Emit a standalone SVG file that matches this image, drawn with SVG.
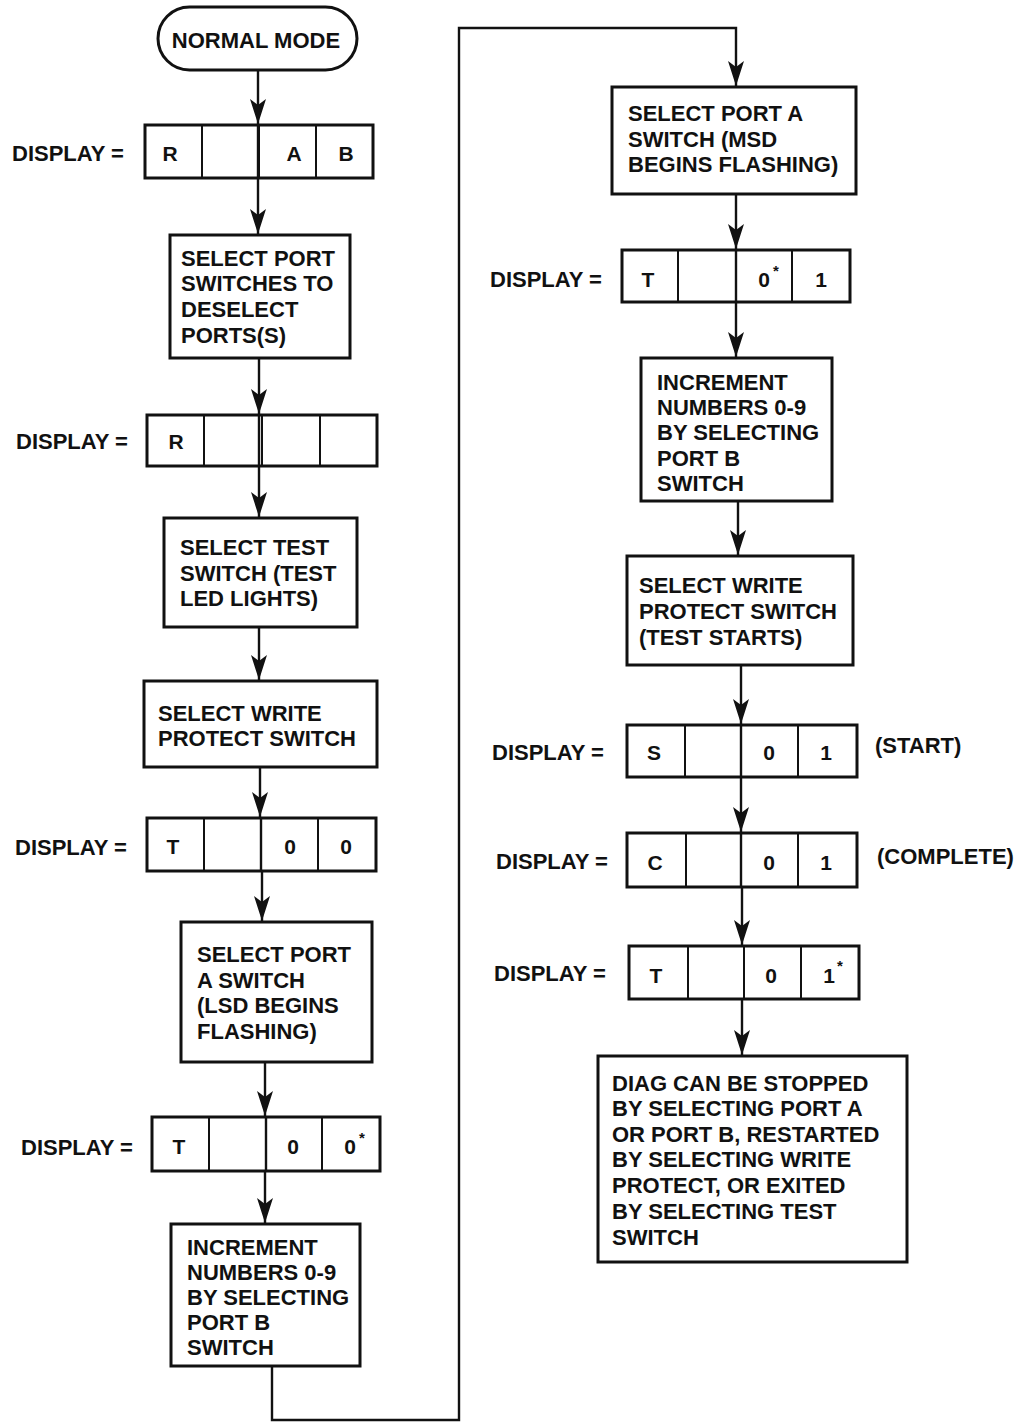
<svg xmlns="http://www.w3.org/2000/svg" width="1021" height="1422" viewBox="0 0 1021 1422">
<defs>
<marker id="ah" markerUnits="userSpaceOnUse" markerWidth="26" markerHeight="16" viewBox="0 0 26 16" refX="25" refY="8" orient="auto">
<path d="M0,0 L25,8 L0,16 L6,8 Z" fill="#111"/>
</marker>
</defs>
<style>
text{font-family:"Liberation Sans",Arial,sans-serif;font-weight:bold;font-size:22px;fill:#111}
.c{text-anchor:middle;font-size:21px}
.s{font-size:15px}
.b{fill:#fff;stroke:#111;stroke-width:3}
.d{stroke:#111;stroke-width:2}
.e{fill:none;stroke:#111;stroke-width:2.4}
.ar{fill:none;stroke:#111;stroke-width:2.4;marker-end:url(#ah)}
</style>
<rect width="1021" height="1422" fill="#fff"/>

<g id="n-normal">
<rect class="b" x="158" y="7" width="199" height="63" rx="31.5"/>
<text x="256" y="48" text-anchor="middle">NORMAL MODE</text>
</g>

<g id="n-d1">
<text x="12" y="161">DISPLAY =</text>
<rect class="b" x="145" y="125" width="228" height="53"/>
<line class="d" x1="202" y1="125" x2="202" y2="178"/><line class="d" x1="259" y1="125" x2="259" y2="178"/><line class="d" x1="316" y1="125" x2="316" y2="178"/>
<text class="c" x="170" y="161">R</text><text class="c" x="294" y="161">A</text><text class="c" x="346" y="161">B</text>
</g>

<g id="n-b1">
<rect class="b" x="170" y="235" width="180" height="123"/>
<text x="181" y="266">SELECT PORT</text><text x="181" y="291">SWITCHES TO</text><text x="181" y="317">DESELECT</text><text x="181" y="343">PORTS(S)</text>
</g>

<g id="n-d2">
<text x="16" y="449">DISPLAY =</text>
<rect class="b" x="147" y="415" width="230" height="51"/>
<line class="d" x1="204" y1="415" x2="204" y2="466"/><line class="d" x1="262" y1="415" x2="262" y2="466"/><line class="d" x1="320" y1="415" x2="320" y2="466"/>
<text class="c" x="176" y="449">R</text>
</g>

<g id="n-b2">
<rect class="b" x="164" y="518" width="193" height="109"/>
<text x="180" y="555">SELECT TEST</text><text x="180" y="581">SWITCH (TEST</text><text x="180" y="606">LED LIGHTS)</text>
</g>

<g id="n-b3">
<rect class="b" x="144" y="681" width="233" height="86"/>
<text x="158" y="721">SELECT WRITE</text><text x="158" y="746">PROTECT SWITCH</text>
</g>

<g id="n-d3">
<text x="15" y="855">DISPLAY =</text>
<rect class="b" x="147" y="818" width="229" height="53"/>
<line class="d" x1="204" y1="818" x2="204" y2="871"/><line class="d" x1="261" y1="818" x2="261" y2="871"/><line class="d" x1="318" y1="818" x2="318" y2="871"/>
<text class="c" x="173" y="854">T</text><text class="c" x="290" y="854">0</text><text class="c" x="346" y="854">0</text>
</g>

<g id="n-b4">
<rect class="b" x="181" y="922" width="191" height="140"/>
<text x="197" y="962">SELECT PORT</text><text x="197" y="988">A SWITCH</text><text x="197" y="1013">(LSD BEGINS</text><text x="197" y="1039">FLASHING)</text>
</g>

<g id="n-d4">
<text x="21" y="1155">DISPLAY =</text>
<rect class="b" x="152" y="1117" width="228" height="54"/>
<line class="d" x1="209" y1="1117" x2="209" y2="1171"/><line class="d" x1="266" y1="1117" x2="266" y2="1171"/><line class="d" x1="322" y1="1117" x2="322" y2="1171"/>
<text class="c" x="179" y="1154">T</text><text class="c" x="293" y="1154">0</text><text class="c" x="350" y="1154">0</text><text class="s" x="359" y="1143">*</text>
</g>

<g id="n-b5">
<rect class="b" x="171" y="1224" width="189" height="142"/>
<text x="187" y="1255">INCREMENT</text><text x="187" y="1280">NUMBERS 0-9</text><text x="187" y="1305">BY SELECTING</text><text x="187" y="1330">PORT B</text><text x="187" y="1355">SWITCH</text>
</g>

<g id="n-b6">
<rect class="b" x="612" y="87" width="244" height="107"/>
<text x="628" y="121">SELECT PORT A</text><text x="628" y="147">SWITCH (MSD</text><text x="628" y="172">BEGINS FLASHING)</text>
</g>

<g id="n-d5">
<text x="490" y="287">DISPLAY =</text>
<rect class="b" x="622" y="250" width="228" height="52"/>
<line class="d" x1="678" y1="250" x2="678" y2="302"/><line class="d" x1="736" y1="250" x2="736" y2="302"/><line class="d" x1="792" y1="250" x2="792" y2="302"/>
<text class="c" x="764" y="287">0</text><text class="c" x="648" y="287">T</text><text class="s" x="773" y="276">*</text><text class="c" x="821" y="287">1</text>
</g>

<g id="n-b7">
<rect class="b" x="641" y="358" width="191" height="143"/>
<text x="657" y="390">INCREMENT</text><text x="657" y="415">NUMBERS 0-9</text><text x="657" y="440">BY SELECTING</text><text x="657" y="466">PORT B</text><text x="657" y="491">SWITCH</text>
</g>

<g id="n-b8">
<rect class="b" x="627" y="556" width="226" height="109"/>
<text x="639" y="593">SELECT WRITE</text><text x="639" y="619">PROTECT SWITCH</text><text x="639" y="645">(TEST STARTS)</text>
</g>

<g id="n-d6">
<text x="492" y="760">DISPLAY =</text>
<rect class="b" x="627" y="725" width="230" height="52"/>
<line class="d" x1="685" y1="725" x2="685" y2="777"/><line class="d" x1="741" y1="725" x2="741" y2="777"/><line class="d" x1="798" y1="725" x2="798" y2="777"/>
<text class="c" x="654" y="760">S</text><text class="c" x="769" y="760">0</text><text class="c" x="826" y="760">1</text>
<text x="875" y="753">(START)</text>
</g>

<g id="n-d7">
<text x="496" y="869">DISPLAY =</text>
<rect class="b" x="627" y="833" width="230" height="54"/>
<line class="d" x1="686" y1="833" x2="686" y2="887"/><line class="d" x1="741" y1="833" x2="741" y2="887"/><line class="d" x1="798" y1="833" x2="798" y2="887"/>
<text class="c" x="655" y="870">C</text><text class="c" x="769" y="870">0</text><text class="c" x="826" y="870">1</text>
<text x="877" y="864">(COMPLETE)</text>
</g>

<g id="n-d8">
<text x="494" y="981">DISPLAY =</text>
<rect class="b" x="629" y="946" width="230" height="53"/>
<line class="d" x1="688" y1="946" x2="688" y2="999"/><line class="d" x1="744" y1="946" x2="744" y2="999"/><line class="d" x1="801" y1="946" x2="801" y2="999"/>
<text class="c" x="656" y="983">T</text><text class="c" x="771" y="983">0</text><text class="c" x="829" y="983">1</text><text class="s" x="837" y="971">*</text>
</g>

<g id="n-b9">
<rect class="b" x="598" y="1056" width="309" height="206"/>
<text x="612" y="1091">DIAG CAN BE STOPPED</text><text x="612" y="1116">BY SELECTING PORT A</text><text x="612" y="1142">OR PORT B, RESTARTED</text><text x="612" y="1167">BY SELECTING WRITE</text><text x="612" y="1193">PROTECT, OR EXITED</text><text x="612" y="1219">BY SELECTING TEST</text><text x="612" y="1245">SWITCH</text>
</g>

<g id="connectors">
<line class="ar" x1="258" y1="70" x2="258" y2="124"/>
<line class="e" x1="258" y1="125" x2="258" y2="178"/>
<line class="ar" x1="258" y1="178" x2="258" y2="234"/>
<line class="ar" x1="259" y1="358" x2="259" y2="414"/>
<line class="e" x1="259" y1="415" x2="259" y2="466"/>
<line class="ar" x1="259" y1="466" x2="259" y2="517"/>
<line class="ar" x1="259" y1="627" x2="259" y2="680"/>
<line class="ar" x1="260" y1="767" x2="260" y2="817"/>
<line class="e" x1="261" y1="818" x2="261" y2="871"/>
<line class="ar" x1="262" y1="871" x2="262" y2="921"/>
<line class="ar" x1="265" y1="1062" x2="265" y2="1116"/>
<line class="e" x1="266" y1="1117" x2="266" y2="1171"/>
<line class="ar" x1="265" y1="1171" x2="265" y2="1223"/>
<polyline class="ar" points="272,1366 272,1420 459,1420 459,28 736,28 736,86"/>
<line class="ar" x1="736" y1="194" x2="736" y2="249"/>
<line class="e" x1="736" y1="250" x2="736" y2="302"/>
<line class="ar" x1="736" y1="302" x2="736" y2="357"/>
<line class="ar" x1="738" y1="501" x2="738" y2="555"/>
<line class="ar" x1="741" y1="665" x2="741" y2="724"/>
<line class="e" x1="741" y1="725" x2="741" y2="777"/>
<line class="ar" x1="741" y1="777" x2="741" y2="832"/>
<line class="e" x1="741" y1="833" x2="741" y2="887"/>
<line class="ar" x1="742" y1="887" x2="742" y2="945"/>
<line class="ar" x1="742" y1="999" x2="742" y2="1055"/>
</g>
</svg>
